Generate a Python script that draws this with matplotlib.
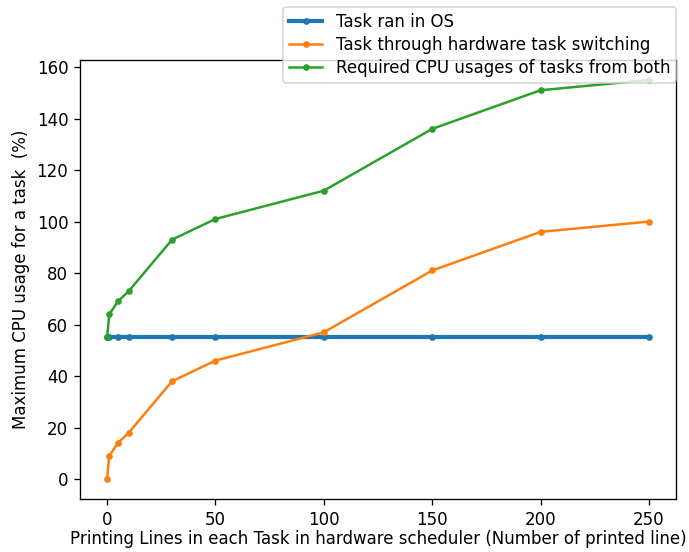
import matplotlib
matplotlib.use("Agg")
import matplotlib.pyplot as plt

# printed lines per task
lines = [0, 1, 5, 10, 30, 50, 100, 150, 200, 250]
cpu_os = [55, 55, 55, 55, 55, 55, 55, 55, 55, 55]
cpu_hw = [0, 9, 14, 18, 38, 46, 57, 81, 96, 100]
cpu_both = [55, 64, 69, 73, 93, 101, 112, 136, 151, 155]

DPI = 120
fig = plt.figure(figsize=(689 / DPI, 552 / DPI), dpi=DPI)
ax = fig.add_axes([80 / 689, 1 - 499 / 552, 596 / 689, 439 / 552])

ax.plot(lines, cpu_os, marker='.', linewidth=2.5, label='Task ran in OS')
ax.plot(lines, cpu_hw, marker='.', label='Task through hardware task switching')
ax.plot(lines, cpu_both, marker='.', label='Required CPU usages of tasks from both')

ax.set_xlabel('Printing Lines in each Task in hardware scheduler (Number of printed line)',
              labelpad=1)
ax.set_ylabel('Maximum CPU usage for a task  (%)')

fig.legend(loc='upper right', bbox_to_anchor=(676 / 689, 1 - 7 / 552), borderaxespad=0,
           labelspacing=0.3, borderpad=0.35)

fig.savefig('out.png', dpi=DPI)
